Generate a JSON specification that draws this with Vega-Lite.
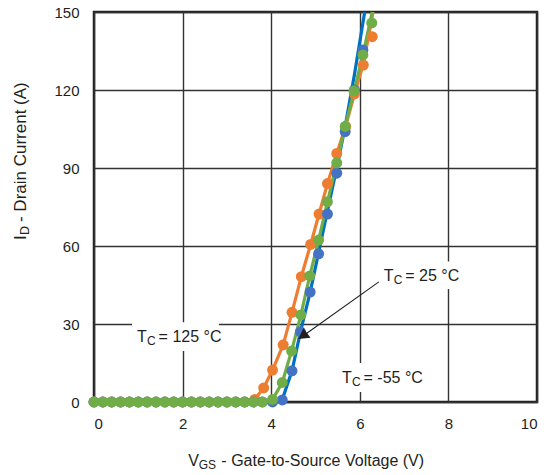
{
  "$schema": "https://vega.github.io/schema/vega-lite/v6.json",
  "width": 443,
  "height": 390,
  "autosize": {"type": "none"},
  "padding": {"left": 94, "top": 12, "right": 13, "bottom": 73},
  "background": "white",
  "config": {
    "view": {"stroke": "#231f20", "strokeWidth": 2.5},
    "axis": {
      "labelFont": "Liberation Sans",
      "labelFontSize": 15,
      "labelColor": "#231f20",
      "grid": true,
      "gridColor": "#333333",
      "gridWidth": 1.4,
      "gridOpacity": 1,
      "ticks": false,
      "domain": false,
      "title": null
    },
    "text": {"font": "Liberation Sans", "color": "#231f20"}
  },
  "datasets": {
    "dots": [
      {"s": "125", "v": 0, "i": 0}, {"s": "125", "v": 0.2, "i": 0}, {"s": "125", "v": 0.4, "i": 0}, {"s": "125", "v": 0.6, "i": 0},
      {"s": "125", "v": 0.8, "i": 0}, {"s": "125", "v": 1.0, "i": 0}, {"s": "125", "v": 1.2, "i": 0}, {"s": "125", "v": 1.4, "i": 0},
      {"s": "125", "v": 1.6, "i": 0}, {"s": "125", "v": 1.8, "i": 0}, {"s": "125", "v": 2.0, "i": 0}, {"s": "125", "v": 2.2, "i": 0},
      {"s": "125", "v": 2.4, "i": 0}, {"s": "125", "v": 2.6, "i": 0}, {"s": "125", "v": 2.8, "i": 0}, {"s": "125", "v": 3.0, "i": 0},
      {"s": "125", "v": 3.2, "i": 0}, {"s": "125", "v": 3.4, "i": 0}, {"s": "125", "v": 3.63, "i": 1},
      {"s": "125", "v": 3.83, "i": 5.4}, {"s": "125", "v": 4.03, "i": 12.3}, {"s": "125", "v": 4.27, "i": 22},
      {"s": "125", "v": 4.47, "i": 34.5}, {"s": "125", "v": 4.68, "i": 48.2}, {"s": "125", "v": 4.89, "i": 60.6},
      {"s": "125", "v": 5.08, "i": 72.3}, {"s": "125", "v": 5.27, "i": 84}, {"s": "125", "v": 5.48, "i": 95.6},
      {"s": "125", "v": 5.68, "i": 106}, {"s": "125", "v": 5.88, "i": 118.5}, {"s": "125", "v": 6.08, "i": 129.6},
      {"s": "125", "v": 6.28, "i": 140.5},
      {"s": "-55", "v": 0, "i": 0}, {"s": "-55", "v": 0.2, "i": 0}, {"s": "-55", "v": 0.4, "i": 0}, {"s": "-55", "v": 0.6, "i": 0},
      {"s": "-55", "v": 0.8, "i": 0}, {"s": "-55", "v": 1.0, "i": 0}, {"s": "-55", "v": 1.2, "i": 0}, {"s": "-55", "v": 1.4, "i": 0},
      {"s": "-55", "v": 1.6, "i": 0}, {"s": "-55", "v": 1.8, "i": 0}, {"s": "-55", "v": 2.0, "i": 0}, {"s": "-55", "v": 2.2, "i": 0},
      {"s": "-55", "v": 2.4, "i": 0}, {"s": "-55", "v": 2.6, "i": 0}, {"s": "-55", "v": 2.8, "i": 0}, {"s": "-55", "v": 3.0, "i": 0},
      {"s": "-55", "v": 3.2, "i": 0}, {"s": "-55", "v": 3.4, "i": 0}, {"s": "-55", "v": 3.6, "i": 0}, {"s": "-55", "v": 3.8, "i": 0},
      {"s": "-55", "v": 4.03, "i": 0}, {"s": "-55", "v": 4.25, "i": 0.8}, {"s": "-55", "v": 4.47, "i": 12},
      {"s": "-55", "v": 4.66, "i": 27}, {"s": "-55", "v": 4.88, "i": 42.3}, {"s": "-55", "v": 5.07, "i": 57},
      {"s": "-55", "v": 5.27, "i": 72.3}, {"s": "-55", "v": 5.48, "i": 88}, {"s": "-55", "v": 5.67, "i": 104},
      {"s": "-55", "v": 5.88, "i": 120}, {"s": "-55", "v": 6.07, "i": 135.4},
      {"s": "25", "v": 0, "i": 0}, {"s": "25", "v": 0.2, "i": 0}, {"s": "25", "v": 0.4, "i": 0}, {"s": "25", "v": 0.6, "i": 0},
      {"s": "25", "v": 0.8, "i": 0}, {"s": "25", "v": 1.0, "i": 0}, {"s": "25", "v": 1.2, "i": 0}, {"s": "25", "v": 1.4, "i": 0},
      {"s": "25", "v": 1.6, "i": 0}, {"s": "25", "v": 1.8, "i": 0}, {"s": "25", "v": 2.0, "i": 0}, {"s": "25", "v": 2.2, "i": 0},
      {"s": "25", "v": 2.4, "i": 0}, {"s": "25", "v": 2.6, "i": 0}, {"s": "25", "v": 2.8, "i": 0}, {"s": "25", "v": 3.0, "i": 0},
      {"s": "25", "v": 3.2, "i": 0}, {"s": "25", "v": 3.4, "i": 0}, {"s": "25", "v": 3.6, "i": 0}, {"s": "25", "v": 3.8, "i": 0},
      {"s": "25", "v": 4.03, "i": 1}, {"s": "25", "v": 4.25, "i": 7.5}, {"s": "25", "v": 4.46, "i": 19.6},
      {"s": "25", "v": 4.67, "i": 33.5}, {"s": "25", "v": 4.87, "i": 48.5}, {"s": "25", "v": 5.07, "i": 62.3},
      {"s": "25", "v": 5.27, "i": 77}, {"s": "25", "v": 5.48, "i": 92}, {"s": "25", "v": 5.67, "i": 106},
      {"s": "25", "v": 5.87, "i": 119.6}, {"s": "25", "v": 6.07, "i": 133.5}, {"s": "25", "v": 6.27, "i": 145.8}
    ],
    "curves": [
      {"s": "125", "v": 0, "i": 0}, {"s": "125", "v": 3.55, "i": 0}, {"s": "125", "v": 3.63, "i": 1},
      {"s": "125", "v": 3.83, "i": 5.4}, {"s": "125", "v": 4.03, "i": 12.3}, {"s": "125", "v": 4.27, "i": 22},
      {"s": "125", "v": 4.47, "i": 34.5}, {"s": "125", "v": 4.68, "i": 48.2}, {"s": "125", "v": 4.89, "i": 60.6},
      {"s": "125", "v": 5.08, "i": 72.3}, {"s": "125", "v": 5.27, "i": 84}, {"s": "125", "v": 5.48, "i": 95.6},
      {"s": "125", "v": 5.68, "i": 106}, {"s": "125", "v": 5.88, "i": 118.5}, {"s": "125", "v": 6.08, "i": 130},
      {"s": "125", "v": 6.3, "i": 150},
      {"s": "-55", "v": 0, "i": 0}, {"s": "-55", "v": 4.05, "i": 0}, {"s": "-55", "v": 4.25, "i": 1},
      {"s": "-55", "v": 4.47, "i": 12}, {"s": "-55", "v": 4.66, "i": 27}, {"s": "-55", "v": 4.88, "i": 42.3},
      {"s": "-55", "v": 5.07, "i": 57.5}, {"s": "-55", "v": 5.27, "i": 73.5}, {"s": "-55", "v": 5.48, "i": 90},
      {"s": "-55", "v": 5.67, "i": 106}, {"s": "-55", "v": 5.88, "i": 126}, {"s": "-55", "v": 6.11, "i": 150},
      {"s": "25", "v": 0, "i": 0}, {"s": "25", "v": 3.9, "i": 0}, {"s": "25", "v": 4.03, "i": 1},
      {"s": "25", "v": 4.25, "i": 7.5}, {"s": "25", "v": 4.46, "i": 19.6}, {"s": "25", "v": 4.67, "i": 33.5},
      {"s": "25", "v": 4.87, "i": 48.5}, {"s": "25", "v": 5.07, "i": 62.3}, {"s": "25", "v": 5.27, "i": 77},
      {"s": "25", "v": 5.48, "i": 92}, {"s": "25", "v": 5.67, "i": 106}, {"s": "25", "v": 5.87, "i": 119.6},
      {"s": "25", "v": 6.07, "i": 133.5}, {"s": "25", "v": 6.28, "i": 150}
    ],
    "boxes": [
      {"x1": 0.86, "x2": 2.82, "y1": 19.6, "y2": 30.7},
      {"x1": 6.47, "x2": 8.28, "y1": 43.5, "y2": 54},
      {"x1": 5.52, "x2": 7.6, "y1": 3.8, "y2": 15}
    ],
    "labels": [
      {"x": 0.973, "y": 23, "rest": "= 125 °C"},
      {"x": 6.54, "y": 46.5, "rest": "= 25 °C"},
      {"x": 5.60, "y": 7.3, "rest": "= -55 °C"}
    ],
    "arrow": [
      {"x1": 6.43, "y1": 46.2, "x2": 4.7, "y2": 25.2}
    ],
    "head": [
      {"x": 4.71, "y": 25.4}
    ],
    "ytitle": [
      {"x": -1.54, "y": 62.3}
    ],
    "xtitle": [
      {"x": 2.13, "y": -24.6}
    ]
  },
  "encoding": {
    "x": {"type": "quantitative", "scale": {"domain": [0, 10], "nice": false}, "axis": {"values": [0, 2, 4, 6, 8, 10], "labelPadding": 14}},
    "y": {"type": "quantitative", "scale": {"domain": [0, 150], "nice": false}, "axis": {"values": [0, 30, 60, 90, 120, 150], "labelPadding": 15}}
  },
  "layer": [
    {
      "data": {"name": "boxes"},
      "mark": {"type": "rect", "fill": "white", "stroke": null},
      "encoding": {
        "x": {"field": "x1", "type": "quantitative"},
        "x2": {"field": "x2"},
        "y": {"field": "y1", "type": "quantitative"},
        "y2": {"field": "y2"}
      }
    },
    {
      "data": {"name": "curves"},
      "transform": [{"filter": "datum.s === '125'"}],
      "mark": {"type": "line", "color": "#ED7D31", "strokeWidth": 3.2},
      "encoding": {
        "x": {"field": "v", "type": "quantitative"},
        "y": {"field": "i", "type": "quantitative"}
      }
    },
    {
      "data": {"name": "curves"},
      "transform": [{"filter": "datum.s === '-55'"}],
      "mark": {"type": "line", "color": "#0070C0", "strokeWidth": 3.2},
      "encoding": {
        "x": {"field": "v", "type": "quantitative"},
        "y": {"field": "i", "type": "quantitative"}
      }
    },
    {
      "data": {"name": "curves"},
      "transform": [{"filter": "datum.s === '25'"}],
      "mark": {"type": "line", "color": "#70AD47", "strokeWidth": 3.2},
      "encoding": {
        "x": {"field": "v", "type": "quantitative"},
        "y": {"field": "i", "type": "quantitative"}
      }
    },
    {
      "data": {"name": "dots"},
      "mark": {"type": "point", "shape": "circle", "filled": true, "opacity": 1, "size": 120},
      "encoding": {
        "x": {"field": "v", "type": "quantitative"},
        "y": {"field": "i", "type": "quantitative"},
        "color": {"field": "s", "type": "nominal", "scale": {"domain": ["125", "-55", "25"], "range": ["#ED7D31", "#4472C4", "#70AD47"]}, "legend": null}
      }
    },
    {
      "data": {"name": "arrow"},
      "mark": {"type": "rule", "color": "#231f20", "strokeWidth": 1.1},
      "encoding": {
        "x": {"field": "x1", "type": "quantitative"},
        "x2": {"field": "x2"},
        "y": {"field": "y1", "type": "quantitative"},
        "y2": {"field": "y2"}
      }
    },
    {
      "data": {"name": "head"},
      "mark": {"type": "point", "shape": "triangle-up", "filled": true, "color": "#231f20", "opacity": 1, "size": 150, "angle": 234.5},
      "encoding": {
        "x": {"field": "x", "type": "quantitative"},
        "y": {"field": "y", "type": "quantitative"}
      }
    },
    {
      "data": {"name": "labels"},
      "mark": {"type": "text", "text": "T", "align": "left", "baseline": "alphabetic", "fontSize": 16},
      "encoding": {
        "x": {"field": "x", "type": "quantitative"},
        "y": {"field": "y", "type": "quantitative"}
      }
    },
    {
      "data": {"name": "labels"},
      "mark": {"type": "text", "text": "C", "align": "left", "baseline": "alphabetic", "fontSize": 12, "dx": 10, "dy": 3},
      "encoding": {
        "x": {"field": "x", "type": "quantitative"},
        "y": {"field": "y", "type": "quantitative"}
      }
    },
    {
      "data": {"name": "labels"},
      "mark": {"type": "text", "align": "left", "baseline": "alphabetic", "fontSize": 16, "dx": 21.5},
      "encoding": {
        "x": {"field": "x", "type": "quantitative"},
        "y": {"field": "y", "type": "quantitative"},
        "text": {"field": "rest"}
      }
    },
    {
      "data": {"name": "ytitle"},
      "mark": {"type": "text", "text": "I", "align": "left", "baseline": "alphabetic", "fontSize": 17, "angle": 270},
      "encoding": {
        "x": {"field": "x", "type": "quantitative"},
        "y": {"field": "y", "type": "quantitative"}
      }
    },
    {
      "data": {"name": "ytitle"},
      "mark": {"type": "text", "text": "D", "align": "left", "baseline": "alphabetic", "fontSize": 12.5, "angle": 270, "dx": 5, "dy": 3.5},
      "encoding": {
        "x": {"field": "x", "type": "quantitative"},
        "y": {"field": "y", "type": "quantitative"}
      }
    },
    {
      "data": {"name": "ytitle"},
      "mark": {"type": "text", "text": "- Drain Current (A)", "align": "left", "baseline": "alphabetic", "fontSize": 17, "angle": 270, "dx": 18},
      "encoding": {
        "x": {"field": "x", "type": "quantitative"},
        "y": {"field": "y", "type": "quantitative"}
      }
    },
    {
      "data": {"name": "xtitle"},
      "mark": {"type": "text", "text": "V", "align": "left", "baseline": "alphabetic", "fontSize": 16},
      "encoding": {
        "x": {"field": "x", "type": "quantitative"},
        "y": {"field": "y", "type": "quantitative"}
      }
    },
    {
      "data": {"name": "xtitle"},
      "mark": {"type": "text", "text": "GS", "align": "left", "baseline": "alphabetic", "fontSize": 12, "dx": 10.3, "dy": 3},
      "encoding": {
        "x": {"field": "x", "type": "quantitative"},
        "y": {"field": "y", "type": "quantitative"}
      }
    },
    {
      "data": {"name": "xtitle"},
      "mark": {"type": "text", "text": "- Gate-to-Source Voltage (V)", "align": "left", "baseline": "alphabetic", "fontSize": 16, "dx": 33},
      "encoding": {
        "x": {"field": "x", "type": "quantitative"},
        "y": {"field": "y", "type": "quantitative"}
      }
    }
  ]
}
